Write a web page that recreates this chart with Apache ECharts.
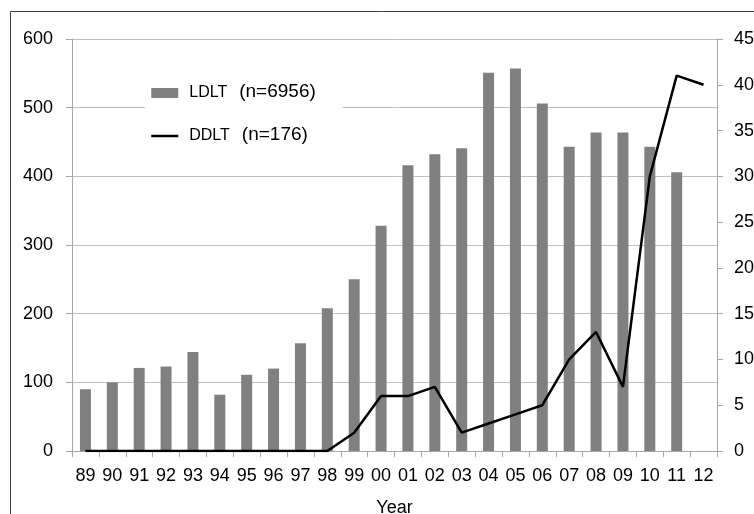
<!DOCTYPE html>
<html>
<head>
<meta charset="utf-8">
<script src="https://cdn.jsdelivr.net/npm/echarts@6/dist/echarts.min.js"></script>
<style>
html,body{margin:0;padding:0;background:#fff;}
#chart{width:754px;height:514px;}
</style>
</head>
<body>
<div id="chart"></div>
<script>
var years = ['89','90','91','92','93','94','95','96','97','98','99','00','01','02','03','04','05','06','07','08','09','10','11','12'];
var ldlt = [90,100,121,123,144,82,111,120,157,208,250,328,416,432,441,551,557,506,443,464,464,443,406,null];
var ddlt = [0,0,0,0,0,0,0,0,0,0,2,6,6,7,2,3,4,5,10,13,7,30,41,40];
var leftTicks = {min:0, max:600, interval:100};
var rightTicks = {min:0, max:45, interval:5};
var ldltName = 'LDLT  (n=6956)';
var ddltName = 'DDLT (n=176)';

var chart = echarts.init(document.getElementById('chart'), null, {renderer:'canvas'});
var font = 'Liberation Sans, Arial, sans-serif';
var option = {
  animation:false,
  backgroundColor:'#fff',
  textStyle:{fontFamily:font},
  graphic:[{
    type:'rect', silent:true, z:-1,
    shape:{x:10.5, y:11.5, width:900, height:700},
    style:{fill:'none', stroke:'#404040', lineWidth:1}
  }],
  grid:{left:72, right:37, top:39, bottom:63, containLabel:false, outerBoundsMode:'none'},
  legend:{
    left:145, top:72, orient:'vertical',
    backgroundColor:'#fff',
    padding:[10,27,14,5],
    itemWidth:27, itemHeight:10, itemGap:24,
    formatter:function(name){
      var i = name.indexOf('(');
      return '{a|' + name.slice(0,i).trim() + '}{b|' + name.slice(i) + '}';
    },
    textStyle:{
      color:'#000', fontFamily:font, padding:[0,0,0,6],
      rich:{
        a:{fontSize:16, color:'#000', fontFamily:font, padding:[0,12,0,0]},
        b:{fontSize:19, color:'#000', fontFamily:font, padding:[0,0,3,0]}
      }
    },
    data:[{name:ldltName, icon:'rect'},
          {name:ddltName, itemStyle:{opacity:0}, lineStyle:{color:'#000', width:2.5}}]
  },
  xAxis:{
    type:'category', data:years,
    name:'Year', nameLocation:'middle', nameGap:48,
    nameTextStyle:{fontSize:18, color:'#000', fontFamily:font},
    axisLine:{lineStyle:{color:'#a6a6a6', width:1}},
    axisTick:{show:true, length:6, lineStyle:{color:'#a6a6a6'}},
    axisLabel:{fontSize:18, color:'#000', margin:16, interval:0}
  },
  yAxis:[{
    type:'value', min:leftTicks.min, max:leftTicks.max, interval:leftTicks.interval,
    axisLine:{show:true, lineStyle:{color:'#a6a6a6'}},
    axisTick:{show:true, length:6, lineStyle:{color:'#a6a6a6'}},
    axisLabel:{fontSize:18, color:'#000', margin:19},
    splitLine:{show:true, lineStyle:{color:'#bfbfbf', width:1}}
  },{
    type:'value', position:'right', min:rightTicks.min, max:rightTicks.max, interval:rightTicks.interval,
    axisLine:{show:true, lineStyle:{color:'#a6a6a6'}},
    axisTick:{show:true, length:6, lineStyle:{color:'#a6a6a6'}},
    axisLabel:{fontSize:18, color:'#000', margin:17},
    splitLine:{show:false}
  }],
  series:[{
    name:ldltName, type:'bar', data:ldlt, yAxisIndex:0,
    barWidth:11, itemStyle:{color:'#808080'}
  },{
    name:ddltName, type:'line', data:ddlt, yAxisIndex:1,
    symbol:'none', showSymbol:false,
    lineStyle:{color:'#000', width:2.5}, itemStyle:{color:'#000'}
  }]
};
chart.setOption(option);
</script>
</body>
</html>
